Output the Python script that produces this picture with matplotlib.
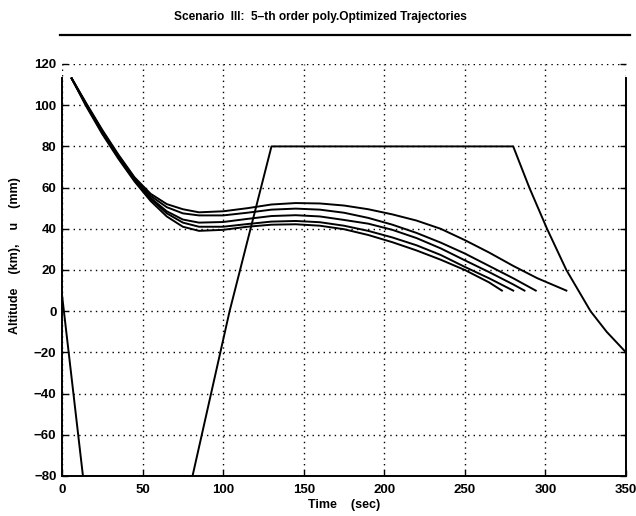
import matplotlib
matplotlib.use("Agg")
import matplotlib.pyplot as plt
from matplotlib.lines import Line2D

plt.rcParams['font.family'] = ['Liberation Sans', 'DejaVu Sans']

# Control input u (mm) -- bang/ramp profile
u_t = [0, 13, 81, 104, 130, 280, 290, 301, 313, 328, 338, 350]
u_y = [8, -80, -80, 0, 80, 80, 60, 40, 20, 0, -10, -20]

# Altitude trajectories (km), five optimized 5th-order polynomial curves
traj_A_t = [6, 15, 25, 35, 45, 55, 65, 75, 85, 100, 115, 130, 145, 160, 175, 190, 205, 220, 235, 250, 265, 280, 295, 313]
traj_A_y = [113, 101, 88, 76, 65, 57, 52, 49.5, 48, 48.5, 50, 51.8, 52.5, 52.3, 51.3, 49.5, 47, 44, 40, 34.5, 28.5, 22, 16, 10]

traj_B_t = [6, 15, 25, 35, 45, 55, 65, 75, 85, 100, 115, 130, 145, 160, 175, 190, 205, 220, 235, 250, 265, 280, 294]
traj_B_y = [113, 100.5, 87.5, 75.5, 64.5, 56, 50.5, 47.5, 46.5, 46.5, 47.8, 49.3, 49.8, 49.3, 47.8, 45.3, 42, 38, 33.3, 28, 22, 16, 10]

traj_C_t = [6, 15, 25, 35, 45, 55, 65, 75, 85, 100, 115, 130, 145, 160, 175, 190, 205, 220, 235, 250, 265, 280, 287]
traj_C_y = [113, 100.5, 87, 75, 64, 55, 48.5, 44.5, 43, 43.3, 44.8, 46.2, 46.6, 46, 44.3, 42.5, 39.5, 35.5, 30.5, 24.7, 19, 13, 10]

traj_D_t = [6, 15, 25, 35, 45, 55, 65, 75, 85, 100, 115, 130, 145, 160, 175, 190, 205, 220, 235, 250, 265, 280]
traj_D_y = [113, 100, 86.5, 74.5, 63.5, 54.5, 47.5, 43, 41, 41, 42.3, 43.5, 43.8, 43.2, 41.5, 39, 35.8, 32, 27.3, 21.5, 16, 10]

traj_E_t = [6, 15, 25, 35, 45, 55, 65, 75, 85, 100, 115, 130, 145, 160, 175, 190, 205, 220, 235, 250, 265, 273]
traj_E_y = [113, 99.5, 86, 74, 63, 53.5, 46, 41, 39, 39.5, 41, 42, 42.2, 41.5, 39.8, 37, 33.5, 29.5, 25, 20, 14, 10]

x_ticks = [0, 50, 100, 150, 200, 250, 300, 350]
y_ticks = [-80, -60, -40, -20, 0, 20, 40, 60, 80, 100, 120]

title_text = "Scenario  III:  5\u2013th order poly.Optimized Trajectories"
xlabel_text = "Time    (sec)"
ylabel_text = "Altitude    (km),    u    (mm)"

fig = plt.figure(figsize=(6.36, 5.16), dpi=100)
ax = fig.add_axes([62/636, 1 - 476/516, 564/636, 412/516])

lw = 1.4
ax.plot(u_t, u_y, color='black', lw=lw)
for tt, yy in [(traj_A_t, traj_A_y), (traj_B_t, traj_B_y), (traj_C_t, traj_C_y),
               (traj_D_t, traj_D_y), (traj_E_t, traj_E_y)]:
    ax.plot(tt, yy, color='black', lw=lw)

ax.set_xlim(0, 350)
ax.set_ylim(-80, 120)
ax.set_xticks(x_ticks)
ax.set_yticks(y_ticks)
ax.grid(True, color='black', linestyle=(0, (1, 3)), linewidth=1.0)
ax.spines['top'].set_visible(False)
for s in ['left', 'right', 'bottom']:
    ax.spines[s].set_linewidth(1.4)
ax.spines['left'].set_bounds(-80, 113)
ax.spines['right'].set_bounds(-80, 113)
ax.tick_params(direction='in', length=4, width=1.0, right=True, top=False,
               labelsize=9.5, pad=4)
ax.tick_params(axis='x', pad=6)
for lab in ax.get_xticklabels() + ax.get_yticklabels():
    lab.set_fontweight('bold')

ax.set_xlabel(xlabel_text, fontsize=9, fontweight='bold')
ax.set_ylabel(ylabel_text, fontsize=9, fontweight='bold')
ax.xaxis.set_label_coords(0.5, -0.055)
ax.yaxis.set_label_coords(-0.073, 0.534)

fig.text(320/636, 1 - 17/516, title_text, ha='center', va='center',
         fontsize=8.6, fontweight='bold')
fig.add_artist(Line2D([60/636, 630/636], [1 - 35/516, 1 - 35/516],
                      transform=fig.transFigure, color='black', lw=1.6))

fig.savefig("out.png", dpi=100)
